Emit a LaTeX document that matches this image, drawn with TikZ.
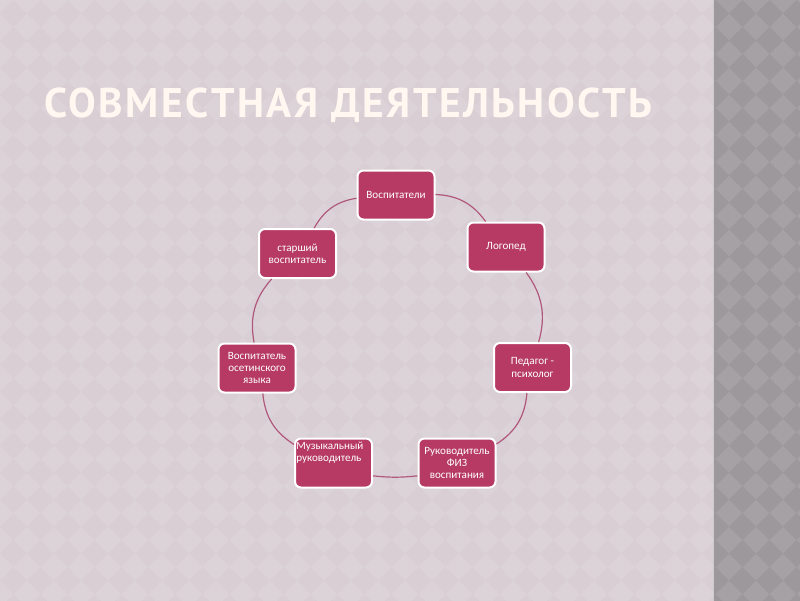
\documentclass[tikz,border=0pt]{standalone}
\usepackage{fontspec}
\setmainfont{Carlito}
\newfontfamily\titlefont[LetterSpace=6]{PT Sans}
\usetikzlibrary{calc, arrows.meta, positioning}
\definecolor{slidebg}{HTML}{D8CED4}
\definecolor{slidediam}{HTML}{DCD3D9}
\definecolor{stripbg}{HTML}{A6A1A5}
\definecolor{stripdiam}{HTML}{9D989C}
\definecolor{boxberry}{HTML}{B63A63}
\definecolor{ringline}{HTML}{B0577A}
\definecolor{titlecream}{HTML}{FFF7F0}

\tikzset{
  rolebox/.style={draw=white, line width=0.5mm, fill=boxberry, rounded corners=1.5mm,
    minimum width=19.25mm, minimum height=12.25mm, inner sep=0.5mm,
    align=center, text=white, font=\fontsize{7.9}{8.6}\selectfont},
  roletext/.style={text=white, font=\fontsize{7.9}{8.6}\selectfont, align=left, inner sep=0},
  ring/.style={ringline, line width=0.3mm},
}

\begin{document}
\begin{tikzpicture}[x=0.25mm, y=-0.25mm]
        \useasboundingbox (0,0) rectangle (800,600);
        % background and diamonds
        \fill[slidebg] (-5,-5) rectangle (713,605);
        \begin{scope}
          \clip (-5,-5) rectangle (713,605);
          \foreach \a in {0,...,27}
            \foreach \b in {0,...,23}
              \fill[slidediam] (27*\a,27*\b) +(-13.5,0) -- +(0,-13.5) -- +(13.5,0) -- +(0,13.5) -- cycle;
        \end{scope}
        \fill[stripbg] (713,-5) rectangle (805,605);
        \begin{scope}
          \clip (713,-5) rectangle (805,605);
          \foreach \a in {26,...,30}
            \foreach \b in {-1,...,23}
              \fill[stripdiam] (27*\a+13.5,27*\b+13.5) +(-13.5,0) -- +(0,-13.5) -- +(13.5,0) -- +(0,13.5) -- cycle;
        \end{scope}
        \draw[white!45!stripbg, line width=0.4mm] (713.5,-5) -- (713.5,605);

        \node[titlecream, font=\titlefont\bfseries\fontsize{29.5}{30}\selectfont,
              anchor=base west, inner sep=0] (title) at (44,117) {СОВМЕСТНАЯ ДЕЯТЕЛЬНОСТЬ};

        % cycle of roles
        \node[rolebox] (vosp) at (396,195)     {Воспитатели};
        \node[rolebox] (logo) at (506,247)     {Логопед};
        \node[rolebox] (ped)  at (532.5,367.5) {Педагог -\\психолог};
        \node[rolebox] (fiz)  at (457,463)     {Руководитель\\ФИЗ\\воспитания};
        \node[rolebox] (muz)  at (333.5,463)   {};
        \node[roletext, anchor=north west] (muztext) at ($(muz.north west)+(2,4)$)
          {Музыкальный\\руководитель};
        \node[rolebox] (oset) at (257,368)     {Воспитатель\\осетинского\\языка};
        \node[rolebox] (star) at (297.5,253.5) {старший\\воспитатель};

        \draw[ring] (vosp)     to[bend left=26] (logo);
        \draw[ring] (logo)     to[bend left=26] (ped);
        \draw[ring] (ped)      to[bend left=26] (fiz);
        \draw[ring] (fiz.198)  to[bend left=6]  (muz.-18);
        \draw[ring] (muz)      to[bend left=26] (oset);
        \draw[ring] (oset)     to[bend left=26] (star);
        \draw[ring] (star)     to[bend left=26] (vosp);
      \end{tikzpicture}
\end{document}
